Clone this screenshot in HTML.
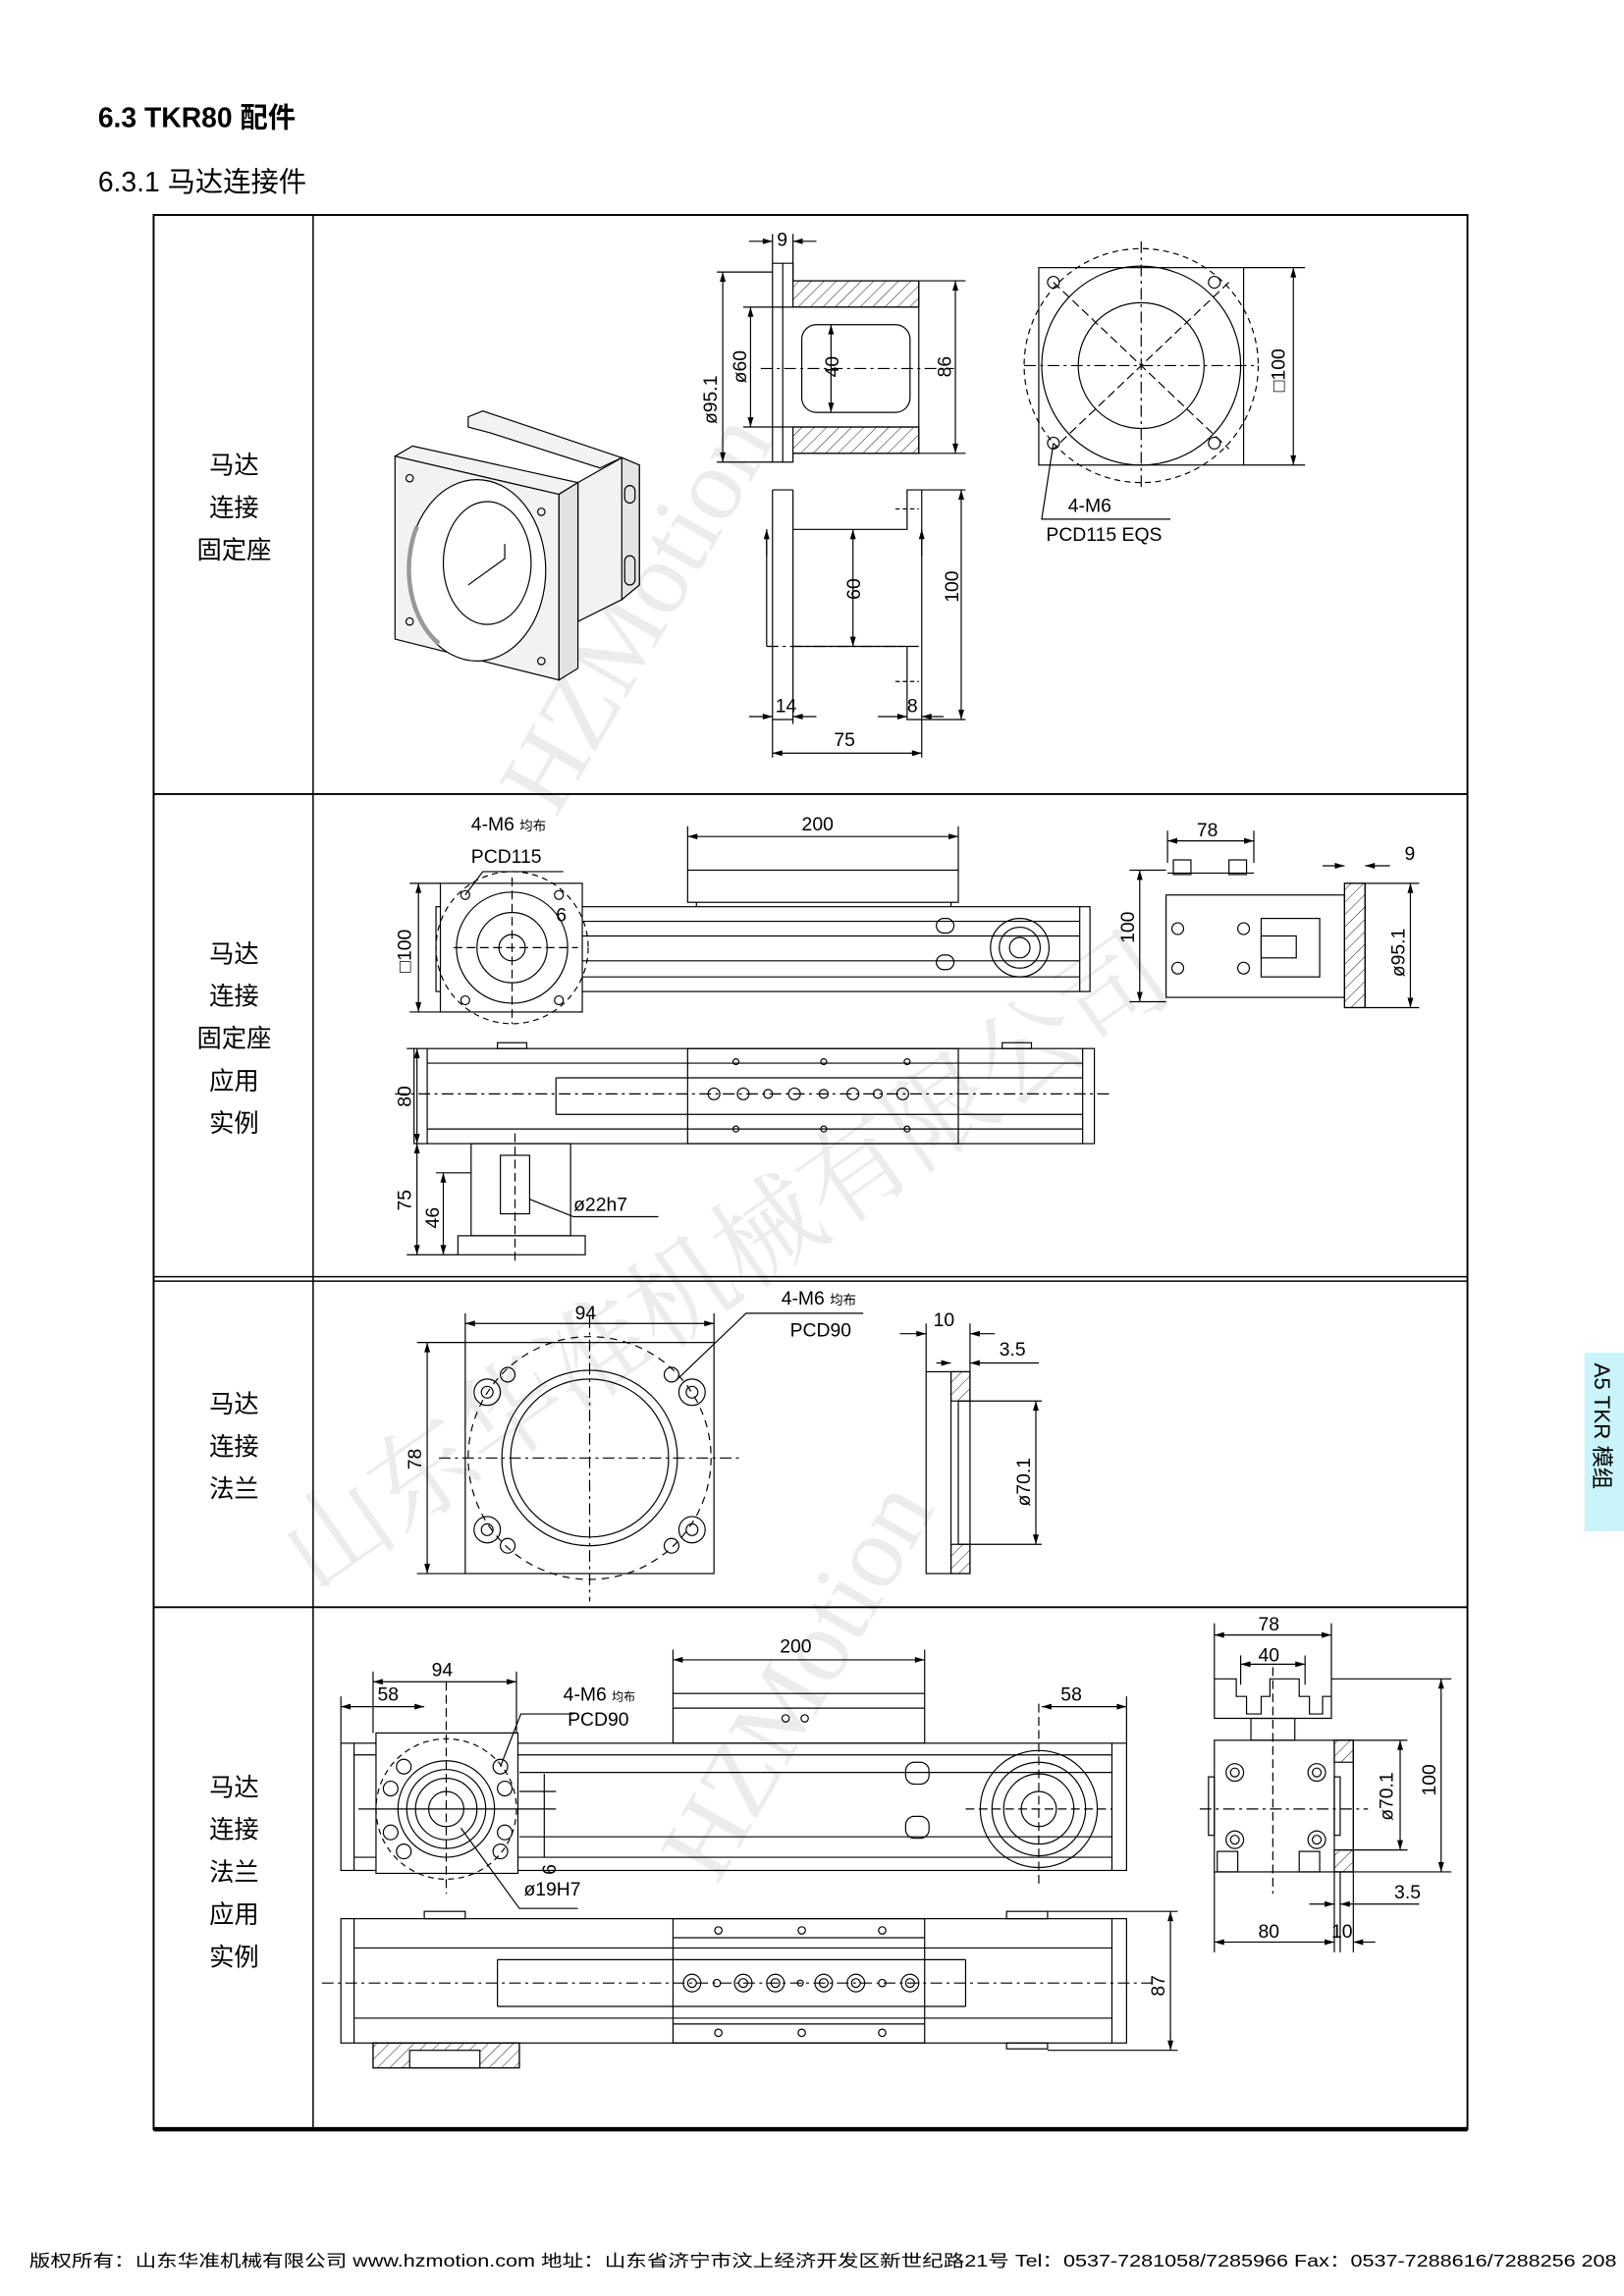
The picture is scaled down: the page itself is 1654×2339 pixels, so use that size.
<!DOCTYPE html>
<html><head><meta charset="utf-8"><style>
html,body{margin:0;padding:0;background:#fff}
svg{display:block}
.t{font-family:"Liberation Sans","Noto Sans CJK SC",sans-serif}
.d{font-family:"Liberation Sans Narrow","Liberation Sans",sans-serif;font-size:13px}
</style></head><body>
<svg width="1654" height="2339" viewBox="0 0 1110 1570" preserveAspectRatio="none" xmlns="http://www.w3.org/2000/svg">
<defs>
<marker id="a" viewBox="0 0 10 6" refX="10" refY="3" markerWidth="10" markerHeight="4" orient="auto-start-reverse" markerUnits="userSpaceOnUse"><path d="M0,0L10,3L0,6z" fill="#000"/></marker>
<pattern id="h" width="6" height="6" patternUnits="userSpaceOnUse" patternTransform="rotate(45)"><line x1="0" y1="0" x2="0" y2="6" stroke="#000" stroke-width="0.6"/></pattern>
</defs>
<g fill="#ececec" font-family="Liberation Serif,serif">
<text x="0" y="0" font-size="70" transform="translate(380,560) rotate(-60)">HZMotion</text>
<text x="0" y="0" font-size="70" transform="translate(490,1290) rotate(-60)">HZMotion</text>
<text x="0" y="0" font-size="72" font-family="Noto Serif CJK SC,serif" transform="translate(215,1090) rotate(-35)">山东华准机械有限公司</text>
</g>
<text class="t" x="67" y="87" font-size="19" font-weight="bold">6.3 TKR80 配件</text>
<text class="t" x="67" y="131" font-size="19">6.3.1 马达连接件</text>
<g stroke="#000" fill="none">
<rect x="105" y="147" width="898" height="1309" stroke-width="1.3"/>
<line x1="105" y1="1456" x2="1003" y2="1456" stroke-width="3"/>
<line x1="214" y1="147" x2="214" y2="1456" stroke-width="1"/>
<line x1="105" y1="543" x2="1003" y2="543" stroke-width="1.3"/>
<line x1="105" y1="873" x2="1003" y2="873" stroke-width="1"/>
<line x1="105" y1="876" x2="1003" y2="876" stroke-width="1"/>
<line x1="105" y1="1099" x2="1003" y2="1099" stroke-width="1.3"/>
</g>
<g class="t" font-size="17" text-anchor="middle">
<text x="160" y="324">马达</text><text x="160" y="353">连接</text><text x="160" y="382">固定座</text>
<text x="160" y="658">马达</text><text x="160" y="687">连接</text><text x="160" y="716">固定座</text><text x="160" y="745">应用</text><text x="160" y="774">实例</text>
<text x="160" y="966">马达</text><text x="160" y="995">连接</text><text x="160" y="1024">法兰</text>
<text x="160" y="1228">马达</text><text x="160" y="1257">连接</text><text x="160" y="1286">法兰</text><text x="160" y="1315">应用</text><text x="160" y="1344">实例</text>
</g>
<rect x="1083" y="925" width="27" height="122" fill="#c8f4fa"/>
<text class="t" x="0" y="0" font-size="15" transform="translate(1090,932) rotate(90)">A5 TKR 模组</text>
<text class="t" x="20" y="1550" font-size="11.5" textLength="1085" lengthAdjust="spacingAndGlyphs">版权所有：山东华准机械有限公司 www.hzmotion.com  地址：山东省济宁市汶上经济开发区新世纪路21号 Tel：0537-7281058/7285966 Fax：0537-7288616/7288256  208</text>

<g stroke="#000" stroke-width="0.8" fill="none">
<!-- ROW1 iso -->
<g fill="#f2f2f2">
<polygon points="320,292 320,285 330,281 425,313 410,320 335,296"/>
<polygon points="395,330 425,313 437,318 437,400 425,410 395,425"/>
<polygon points="425,313 437,318 437,400 425,410" fill="#e4e4e4"/>
<polygon points="270,312 282,305 395,330 382,338"/>
<polygon points="382,338 395,330 395,457 382,465" fill="#e2e2e2"/>
<polygon points="270,312 382,338 382,465 270,437"/>
</g>
<ellipse cx="326" cy="390" rx="47" ry="62" fill="#fff"/>
<path d="M285,360 A40,58 0 0 0 300,440" stroke-width="3" stroke="#999"/>
<ellipse cx="333" cy="385" rx="30" ry="42" fill="#fff"/>
<polyline points="320,400 345,382 345,372"/>
<circle cx="280" cy="327" r="2.5"/><circle cx="370" cy="350" r="2.5"/><circle cx="280" cy="425" r="2.5"/><circle cx="370" cy="452" r="2.5"/>
<rect x="427" y="332" width="7" height="12" rx="3.5"/><rect x="427" y="380" width="7" height="20" rx="3.5"/>
<!-- section view -->
<polyline points="528,186 528,316 542,316 542,310 628,310 628,192 542,192 542,180 528,180 528,186"/>
<rect x="542" y="192" width="86" height="18" fill="url(#h)"/>
<rect x="542" y="292" width="86" height="18" fill="url(#h)"/>
<line x1="542" y1="210" x2="628" y2="210"/><line x1="542" y1="292" x2="628" y2="292"/>
<line x1="535" y1="180" x2="535" y2="316"/>
<rect x="548" y="222" width="74" height="60" rx="10"/>
<line x1="520" y1="252" x2="652" y2="252" stroke-dasharray="8,3,2,3"/>
<line x1="490" y1="186" x2="528" y2="186"/><line x1="490" y1="316" x2="528" y2="316"/>
<line x1="494" y1="186" x2="494" y2="316" marker-start="url(#a)" marker-end="url(#a)"/>
<line x1="508" y1="210" x2="542" y2="210"/><line x1="508" y1="292" x2="542" y2="292"/>
<line x1="513" y1="210" x2="513" y2="292" marker-start="url(#a)" marker-end="url(#a)"/>
<line x1="568" y1="222" x2="568" y2="282" marker-start="url(#a)" marker-end="url(#a)"/>
<line x1="628" y1="192" x2="660" y2="192"/><line x1="628" y1="310" x2="660" y2="310"/>
<line x1="653" y1="192" x2="653" y2="310" marker-start="url(#a)" marker-end="url(#a)"/>
<line x1="528" y1="160" x2="528" y2="180"/><line x1="542" y1="160" x2="542" y2="192"/>
<line x1="512" y1="165" x2="528" y2="165" marker-end="url(#a)"/><line x1="558" y1="165" x2="542" y2="165" marker-end="url(#a)"/>
<!-- front view -->
<rect x="710" y="183" width="140" height="135"/>
<circle cx="780" cy="250" r="80" stroke-dasharray="4,3"/>
<circle cx="780" cy="250" r="68"/><circle cx="780" cy="250" r="43"/>
<line x1="700" y1="250" x2="860" y2="250" stroke-dasharray="8,3,2,3"/>
<line x1="780" y1="165" x2="780" y2="335" stroke-dasharray="8,3,2,3"/>
<line x1="720" y1="193" x2="840" y2="307" stroke-dasharray="6,3"/>
<line x1="840" y1="193" x2="720" y2="307" stroke-dasharray="6,3"/>
<circle cx="720" cy="193" r="4"/><circle cx="830" cy="193" r="4"/><circle cx="720" cy="303" r="4"/><circle cx="830" cy="303" r="4"/>
<line x1="850" y1="183" x2="892" y2="183"/><line x1="850" y1="318" x2="892" y2="318"/>
<line x1="884" y1="183" x2="884" y2="318" marker-start="url(#a)" marker-end="url(#a)"/>
<polyline points="720,303 712,355 800,355"/>
<!-- side view -->
<line x1="528" y1="335" x2="542" y2="335"/><line x1="528" y1="335" x2="528" y2="518"/>
<line x1="542" y1="335" x2="542" y2="495"/>
<polyline points="542,362 620,362 620,335 660,335"/>
<polyline points="542,442 620,442 620,492 660,492"/>
<line x1="630" y1="335" x2="630" y2="518"/>
<line x1="528" y1="492" x2="542" y2="492"/>
<line x1="524" y1="442" x2="630" y2="442" stroke-dasharray="8,3,2,3"/>
<line x1="524" y1="362" x2="524" y2="442"/><line x1="524" y1="380" x2="524" y2="362" marker-end="url(#a)"/>
<line x1="630" y1="380" x2="630" y2="362" marker-end="url(#a)"/>
<line x1="612" y1="348" x2="628" y2="348" stroke-dasharray="3,2"/><line x1="612" y1="466" x2="628" y2="466" stroke-dasharray="3,2"/>
<line x1="583" y1="362" x2="583" y2="442" marker-start="url(#a)" marker-end="url(#a)"/>
<line x1="657" y1="335" x2="657" y2="492" marker-start="url(#a)" marker-end="url(#a)"/>
<line x1="512" y1="490" x2="528" y2="490" marker-end="url(#a)"/><line x1="558" y1="490" x2="542" y2="490" marker-end="url(#a)"/>
<line x1="600" y1="490" x2="620" y2="490" marker-end="url(#a)"/><line x1="645" y1="490" x2="630" y2="490" marker-end="url(#a)"/>
<line x1="528" y1="515" x2="630" y2="515" marker-start="url(#a)" marker-end="url(#a)"/>

<!-- ROW2 top view -->
<rect x="298" y="620" width="447" height="58"/>
<line x1="310" y1="620" x2="310" y2="678"/><line x1="738" y1="620" x2="738" y2="678"/>
<line x1="398" y1="630" x2="738" y2="630"/><line x1="398" y1="668" x2="738" y2="668"/>
<line x1="398" y1="640" x2="738" y2="640"/><line x1="398" y1="657" x2="738" y2="657"/>
<rect x="640" y="628" width="12" height="10" rx="5"/><rect x="640" y="653" width="12" height="10" rx="5"/>
<rect x="470" y="595" width="185" height="22"/><line x1="476" y1="617" x2="476" y2="620"/><line x1="650" y1="617" x2="650" y2="620"/>
<line x1="470" y1="565" x2="470" y2="595"/><line x1="655" y1="565" x2="655" y2="595"/>
<line x1="470" y1="572" x2="655" y2="572" marker-start="url(#a)" marker-end="url(#a)"/>
<circle cx="697" cy="648" r="20"/><circle cx="697" cy="648" r="14"/><circle cx="697" cy="648" r="7"/>
<rect x="301" y="604" width="97" height="88" fill="#fff"/>
<circle cx="350" cy="648" r="52" stroke-dasharray="4,3"/>
<circle cx="350" cy="648" r="38"/><circle cx="350" cy="648" r="24"/><circle cx="350" cy="648" r="9"/>
<line x1="310" y1="648" x2="395" y2="648" stroke-dasharray="6,3"/><line x1="350" y1="600" x2="350" y2="700" stroke-dasharray="6,3"/>
<circle cx="318" cy="612" r="3"/><circle cx="382" cy="612" r="3"/><circle cx="318" cy="684" r="3"/><circle cx="382" cy="684" r="3"/>
<polyline points="318,612 330,596 385,596"/>
<line x1="280" y1="604" x2="301" y2="604"/><line x1="280" y1="692" x2="301" y2="692"/>
<line x1="286" y1="604" x2="286" y2="692" marker-start="url(#a)" marker-end="url(#a)"/>
<rect x="797" y="612" width="122" height="70"/>
<rect x="919" y="604" width="14" height="85" fill="url(#h)"/><rect x="919" y="604" width="14" height="85"/>
<rect x="862" y="628" width="40" height="40"/><rect x="862" y="640" width="24" height="15"/>
<line x1="798" y1="597" x2="857" y2="597"/><rect x="802" y="588" width="12" height="10"/><rect x="840" y="588" width="12" height="10"/>
<circle cx="805" cy="635" r="4"/><circle cx="805" cy="662" r="4"/><circle cx="850" cy="635" r="4"/><circle cx="850" cy="662" r="4"/>
<line x1="798" y1="568" x2="798" y2="590"/><line x1="857" y1="568" x2="857" y2="590"/>
<line x1="798" y1="575" x2="857" y2="575" marker-start="url(#a)" marker-end="url(#a)"/>
<line x1="904" y1="592" x2="919" y2="592" marker-end="url(#a)"/><line x1="950" y1="592" x2="933" y2="592" marker-end="url(#a)"/>
<line x1="772" y1="595" x2="797" y2="595"/><line x1="772" y1="685" x2="797" y2="685"/>
<line x1="779" y1="595" x2="779" y2="685" marker-start="url(#a)" marker-end="url(#a)"/>
<line x1="933" y1="604" x2="970" y2="604"/><line x1="933" y1="689" x2="970" y2="689"/>
<line x1="964" y1="604" x2="964" y2="689" marker-start="url(#a)" marker-end="url(#a)"/>
<rect x="283" y="717" width="465" height="65"/>
<line x1="292" y1="717" x2="292" y2="782"/><line x1="740" y1="717" x2="740" y2="782"/>
<line x1="292" y1="727" x2="740" y2="727"/><line x1="292" y1="772" x2="740" y2="772"/>
<rect x="470" y="717" width="185" height="65"/>
<line x1="380" y1="737" x2="740" y2="737"/><line x1="380" y1="762" x2="740" y2="762"/>
<line x1="380" y1="737" x2="380" y2="762"/>
<rect x="340" y="713" width="20" height="4"/><rect x="685" y="713" width="20" height="4"/>
<g fill="none"><circle cx="488" cy="748" r="4"/><circle cx="508" cy="748" r="4"/><circle cx="525" cy="748" r="3"/><circle cx="543" cy="748" r="4"/><circle cx="563" cy="748" r="3"/><circle cx="583" cy="748" r="4"/><circle cx="600" cy="748" r="3"/><circle cx="617" cy="748" r="4"/></g>
<circle cx="503" cy="726" r="2"/><circle cx="563" cy="726" r="2"/><circle cx="620" cy="726" r="2"/><circle cx="503" cy="772" r="2"/><circle cx="563" cy="772" r="2"/><circle cx="620" cy="772" r="2"/>
<line x1="270" y1="748" x2="760" y2="748" stroke-dasharray="8,3,2,3"/>
<rect x="322" y="782" width="68" height="63"/><rect x="313" y="845" width="87" height="13"/>
<rect x="342" y="790" width="20" height="40"/>
<line x1="352" y1="775" x2="352" y2="865" stroke-dasharray="6,3"/>
<line x1="278" y1="717" x2="283" y2="717"/>
<line x1="285" y1="717" x2="285" y2="782" marker-start="url(#a)" marker-end="url(#a)"/>
<line x1="278" y1="858" x2="313" y2="858"/>
<line x1="285" y1="782" x2="285" y2="858" marker-start="url(#a)" marker-end="url(#a)"/>
<line x1="303" y1="802" x2="303" y2="858" marker-start="url(#a)" marker-end="url(#a)"/>
<line x1="298" y1="802" x2="322" y2="802"/>
<polyline points="362,820 392,832 450,832"/>

<!-- ROW3 -->
<rect x="318" y="918" width="170" height="158"/>
<circle cx="403" cy="997" r="83" stroke-dasharray="5,4"/>
<circle cx="403" cy="997" r="60"/><circle cx="403" cy="997" r="54"/>
<line x1="300" y1="997" x2="505" y2="997" stroke-dasharray="8,3,2,3"/><line x1="403" y1="900" x2="403" y2="1095" stroke-dasharray="8,3,2,3"/>
<circle cx="333" cy="952" r="9"/><circle cx="333" cy="952" r="4"/><circle cx="473" cy="952" r="9"/><circle cx="473" cy="952" r="4"/>
<circle cx="333" cy="1046" r="9"/><circle cx="333" cy="1046" r="4"/><circle cx="473" cy="1046" r="9"/><circle cx="473" cy="1046" r="4"/>
<circle cx="347" cy="940" r="5"/><circle cx="459" cy="940" r="5"/><circle cx="347" cy="1057" r="5"/><circle cx="459" cy="1057" r="5"/>
<polyline points="462,944 510,898 590,898"/>
<line x1="318" y1="898" x2="318" y2="918"/><line x1="488" y1="898" x2="488" y2="918"/>
<line x1="318" y1="905" x2="488" y2="905" marker-start="url(#a)" marker-end="url(#a)"/>
<line x1="285" y1="918" x2="318" y2="918"/><line x1="285" y1="1076" x2="318" y2="1076"/>
<line x1="292" y1="918" x2="292" y2="1076" marker-start="url(#a)" marker-end="url(#a)"/>
<rect x="633" y="938" width="30" height="138"/>
<rect x="650" y="938" width="13" height="20" fill="url(#h)"/><rect x="650" y="1056" width="13" height="20" fill="url(#h)"/>
<line x1="650" y1="938" x2="650" y2="1076"/><line x1="655" y1="958" x2="655" y2="1056"/>
<line x1="655" y1="958" x2="712" y2="958"/><line x1="655" y1="1056" x2="712" y2="1056"/>
<line x1="708" y1="958" x2="708" y2="1056" marker-start="url(#a)" marker-end="url(#a)"/>
<line x1="633" y1="905" x2="633" y2="938"/><line x1="663" y1="905" x2="663" y2="938"/>
<line x1="615" y1="912" x2="633" y2="912" marker-end="url(#a)"/><line x1="680" y1="912" x2="663" y2="912" marker-end="url(#a)"/>
<line x1="640" y1="932" x2="650" y2="932" marker-end="url(#a)"/><line x1="710" y1="932" x2="663" y2="932" marker-end="url(#a)"/>

<!-- ROW4 -->
<rect x="233" y="1192" width="537" height="87"/>
<line x1="242" y1="1192" x2="242" y2="1279"/><line x1="760" y1="1192" x2="760" y2="1279"/>
<line x1="242" y1="1200" x2="760" y2="1200"/><line x1="242" y1="1270" x2="760" y2="1270"/>
<line x1="355" y1="1212" x2="760" y2="1212"/><line x1="355" y1="1256" x2="760" y2="1256"/>
<rect x="619" y="1205" width="16" height="15" rx="6"/><rect x="619" y="1242" width="16" height="15" rx="6"/>
<rect x="460" y="1158" width="172" height="34"/><line x1="460" y1="1168" x2="632" y2="1168"/>
<circle cx="537" cy="1175" r="2.5"/><circle cx="550" cy="1175" r="2.5"/>
<line x1="460" y1="1128" x2="460" y2="1158"/><line x1="632" y1="1128" x2="632" y2="1158"/>
<line x1="460" y1="1135" x2="632" y2="1135" marker-start="url(#a)" marker-end="url(#a)"/>
<rect x="257" y="1185" width="97" height="96" fill="#fff"/>
<circle cx="305" cy="1237" r="48" stroke-dasharray="4,3"/>
<circle cx="305" cy="1237" r="33"/><circle cx="305" cy="1237" r="27"/><circle cx="305" cy="1237" r="21"/><circle cx="305" cy="1237" r="12"/>
<circle cx="276" cy="1208" r="5"/><circle cx="342" cy="1208" r="5"/><circle cx="276" cy="1266" r="5"/><circle cx="342" cy="1266" r="5"/>
<circle cx="267" cy="1223" r="5"/><circle cx="345" cy="1223" r="5"/><circle cx="267" cy="1253" r="5"/><circle cx="345" cy="1253" r="5"/>
<circle cx="710" cy="1237" r="40"/><circle cx="710" cy="1237" r="32"/><circle cx="710" cy="1237" r="24"/><circle cx="710" cy="1237" r="12"/>
<line x1="245" y1="1237" x2="380" y2="1237"/><line x1="660" y1="1237" x2="760" y2="1237" stroke-dasharray="6,3"/>
<line x1="305" y1="1150" x2="305" y2="1295" stroke-dasharray="6,3"/><line x1="710" y1="1165" x2="710" y2="1290" stroke-dasharray="6,3"/>
<polyline points="342,1208 356,1172 392,1172"/>
<polyline points="315,1250 355,1305 395,1305"/>
<line x1="355" y1="1225" x2="380" y2="1225"/>
<line x1="372" y1="1213" x2="372" y2="1270"/>
<line x1="255" y1="1143" x2="255" y2="1185"/><line x1="353" y1="1143" x2="353" y2="1185"/>
<line x1="255" y1="1150" x2="353" y2="1150" marker-start="url(#a)" marker-end="url(#a)"/>
<line x1="233" y1="1160" x2="233" y2="1192"/>
<line x1="233" y1="1167" x2="290" y2="1167" marker-start="url(#a)" marker-end="url(#a)"/>
<line x1="770" y1="1160" x2="770" y2="1192"/>
<line x1="712" y1="1167" x2="770" y2="1167" marker-start="url(#a)" marker-end="url(#a)"/>
<rect x="233" y="1312" width="537" height="85"/>
<line x1="242" y1="1312" x2="242" y2="1397"/><line x1="760" y1="1312" x2="760" y2="1397"/>
<line x1="242" y1="1332" x2="760" y2="1332"/><line x1="242" y1="1380" x2="760" y2="1380"/>
<rect x="460" y="1312" width="172" height="85"/>
<line x1="460" y1="1325" x2="632" y2="1325"/><line x1="460" y1="1384" x2="632" y2="1384"/>
<line x1="340" y1="1340" x2="660" y2="1340"/><line x1="340" y1="1372" x2="660" y2="1372"/>
<line x1="340" y1="1340" x2="340" y2="1372"/><line x1="660" y1="1340" x2="660" y2="1372"/>
<rect x="290" y="1307" width="28" height="5"/><rect x="688" y="1307" width="28" height="5"/><rect x="688" y="1397" width="28" height="4"/>
<rect x="255" y="1397" width="100" height="17" fill="url(#h)"/><rect x="255" y="1397" width="100" height="17"/><rect x="280" y="1402" width="48" height="12" fill="#fff"/>
<line x1="220" y1="1356" x2="790" y2="1356" stroke-dasharray="8,3,2,3"/>
<g><circle cx="473" cy="1356" r="6"/><circle cx="473" cy="1356" r="3"/><circle cx="490" cy="1356" r="2.5"/><circle cx="508" cy="1356" r="6"/><circle cx="508" cy="1356" r="3"/><circle cx="530" cy="1356" r="6"/><circle cx="530" cy="1356" r="3"/><circle cx="547" cy="1356" r="2"/><circle cx="563" cy="1356" r="6"/><circle cx="563" cy="1356" r="3"/><circle cx="585" cy="1356" r="6"/><circle cx="585" cy="1356" r="3"/><circle cx="603" cy="1356" r="2.5"/><circle cx="622" cy="1356" r="6"/><circle cx="622" cy="1356" r="3"/></g>
<circle cx="491" cy="1320" r="2.5"/><circle cx="548" cy="1320" r="2.5"/><circle cx="603" cy="1320" r="2.5"/><circle cx="491" cy="1390" r="2.5"/><circle cx="548" cy="1390" r="2.5"/><circle cx="603" cy="1390" r="2.5"/>
<line x1="716" y1="1307" x2="805" y2="1307"/><line x1="716" y1="1402" x2="805" y2="1402"/>
<line x1="800" y1="1307" x2="800" y2="1402" marker-start="url(#a)" marker-end="url(#a)"/>
<polyline points="830,1148 830,1175 910,1175 910,1148"/>
<polyline points="830,1148 845,1148 845,1160 852,1160 852,1172 862,1172 862,1160 868,1160 868,1148 888,1148 888,1160 895,1160 895,1172 904,1172 904,1160 910,1160"/>
<rect x="855" y="1175" width="30" height="15"/>
<rect x="830" y="1190" width="95" height="90"/>
<rect x="912" y="1190" width="13" height="90"/>
<rect x="912" y="1190" width="13" height="15" fill="url(#h)"/><rect x="912" y="1265" width="13" height="15" fill="url(#h)"/>
<rect x="826" y="1215" width="4" height="40"/><rect x="912" y="1215" width="4" height="40"/>
<circle cx="844" cy="1212" r="6"/><circle cx="844" cy="1212" r="3"/><circle cx="900" cy="1212" r="6"/><circle cx="900" cy="1212" r="3"/>
<circle cx="844" cy="1258" r="6"/><circle cx="844" cy="1258" r="3"/><circle cx="900" cy="1258" r="6"/><circle cx="900" cy="1258" r="3"/>
<rect x="832" y="1266" width="14" height="14"/><rect x="888" y="1266" width="14" height="14"/>
<line x1="820" y1="1237" x2="935" y2="1237" stroke-dasharray="8,3,2,3"/><line x1="870" y1="1140" x2="870" y2="1295" stroke-dasharray="6,3"/>
<line x1="830" y1="1110" x2="830" y2="1148"/><line x1="910" y1="1110" x2="910" y2="1148"/>
<line x1="830" y1="1118" x2="910" y2="1118" marker-start="url(#a)" marker-end="url(#a)"/>
<line x1="848" y1="1132" x2="848" y2="1152"/><line x1="892" y1="1132" x2="892" y2="1152"/>
<line x1="848" y1="1138" x2="892" y2="1138" marker-start="url(#a)" marker-end="url(#a)"/>
<line x1="916" y1="1190" x2="962" y2="1190"/><line x1="916" y1="1265" x2="962" y2="1265"/>
<line x1="957" y1="1190" x2="957" y2="1265" marker-start="url(#a)" marker-end="url(#a)"/>
<line x1="910" y1="1148" x2="992" y2="1148"/><line x1="925" y1="1280" x2="992" y2="1280"/>
<line x1="985" y1="1148" x2="985" y2="1280" marker-start="url(#a)" marker-end="url(#a)"/>
<line x1="830" y1="1280" x2="830" y2="1335"/><line x1="916" y1="1280" x2="916" y2="1335"/><line x1="925" y1="1280" x2="925" y2="1335"/><line x1="912" y1="1280" x2="912" y2="1335"/>
<line x1="895" y1="1302" x2="912" y2="1302" marker-end="url(#a)"/><line x1="970" y1="1302" x2="916" y2="1302" marker-end="url(#a)"/>
<line x1="830" y1="1328" x2="912" y2="1328" marker-start="url(#a)" marker-end="url(#a)"/>
<line x1="940" y1="1328" x2="925" y2="1328" marker-end="url(#a)"/>
</g>
<g class="d">
<text x="531" y="168">9</text>
<text transform="translate(490,290) rotate(-90)">ø95.1</text>
<text transform="translate(510,262) rotate(-90)">ø60</text>
<text transform="translate(573,258) rotate(-90)">40</text>
<text transform="translate(650,258) rotate(-90)">86</text>
<text transform="translate(878,268) rotate(-90)">□100</text>
<text x="730" y="350">4-M6</text><text x="715" y="370">PCD115 EQS</text>
<text transform="translate(588,410) rotate(-90)">60</text>
<text transform="translate(655,412) rotate(-90)">100</text>
<text x="530" y="487">14</text><text x="620" y="487">8</text>
<text x="570" y="510">75</text>
<text x="322" y="568">4-M6 <tspan font-size="9">均布</tspan></text><text x="322" y="590">PCD115</text>
<text x="548" y="568">200</text>
<text transform="translate(281,665) rotate(-90)">□100</text>
<text x="380" y="630">6</text>
<text x="818" y="572">78</text><text x="960" y="588">9</text>
<text transform="translate(775,645) rotate(-90)">100</text>
<text transform="translate(960,668) rotate(-90)">ø95.1</text>
<text transform="translate(281,757) rotate(-90)">80</text>
<text transform="translate(281,828) rotate(-90)">75</text>
<text transform="translate(300,840) rotate(-90)">46</text>
<text x="392" y="828">ø22h7</text>
<text x="393" y="902">94</text>
<text x="534" y="892">4-M6 <tspan font-size="9">均布</tspan></text><text x="540" y="914">PCD90</text>
<text transform="translate(288,1005) rotate(-90)">78</text>
<text x="638" y="907">10</text><text x="683" y="927">3.5</text>
<text transform="translate(704,1030) rotate(-90)">ø70.1</text>
<text x="295" y="1146">94</text><text x="258" y="1163">58</text><text x="533" y="1130">200</text><text x="725" y="1163">58</text>
<text x="385" y="1163">4-M6 <tspan font-size="8">均布</tspan></text><text x="388" y="1180">PCD90</text>
<text transform="translate(380,1282) rotate(-90)">6</text>
<text x="358" y="1296">ø19H7</text>
<text transform="translate(796,1365) rotate(-90)">87</text>
<text x="860" y="1115">78</text><text x="860" y="1136">40</text>
<text transform="translate(952,1245) rotate(-90)">ø70.1</text>
<text transform="translate(981,1228) rotate(-90)">100</text>
<text x="953" y="1298">3.5</text><text x="860" y="1325">80</text><text x="910" y="1325">10</text>
</g>
</svg>
</body></html>
